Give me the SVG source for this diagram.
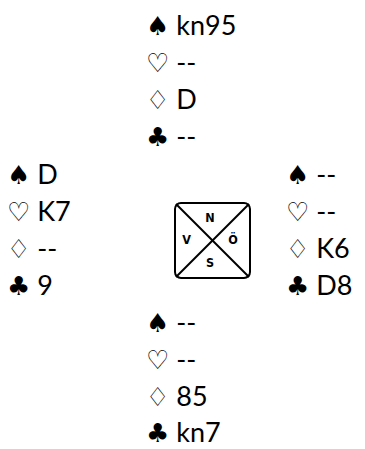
<svg xmlns="http://www.w3.org/2000/svg" width="365" height="449" viewBox="0 0 365 449">
<style>
text{font-family:"Lato","Open Sans","DejaVu Sans",sans-serif;font-size:27px;fill:#000}
.s{font-family:"DejaVu Sans",sans-serif;font-size:26px}
.c{font-family:"DejaVu Sans Condensed","DejaVu Sans",sans-serif;font-weight:bold;font-size:12.5px;text-anchor:middle}
</style>
<rect width="365" height="449" fill="#fff"/>
<g id="north">
<text x="146" y="35"><tspan class="s">♠</tspan> kn95</text>
<text x="146" y="72"><tspan class="s">♡</tspan> --</text>
<text x="146" y="109"><tspan class="s">♢</tspan> D</text>
<text x="146" y="146"><tspan class="s">♣</tspan> --</text>
</g>
<g id="west">
<text x="7" y="184"><tspan class="s">♠</tspan> D</text>
<text x="7" y="221"><tspan class="s">♡</tspan> K7</text>
<text x="7" y="258"><tspan class="s">♢</tspan> --</text>
<text x="7" y="295"><tspan class="s">♣</tspan> 9</text>
</g>
<g id="east">
<text x="286" y="184"><tspan class="s">♠</tspan> --</text>
<text x="286" y="221"><tspan class="s">♡</tspan> --</text>
<text x="286" y="258"><tspan class="s">♢</tspan> K6</text>
<text x="286" y="295"><tspan class="s">♣</tspan> D8</text>
</g>
<g id="south">
<text x="146" y="332"><tspan class="s">♠</tspan> --</text>
<text x="146" y="369"><tspan class="s">♡</tspan> --</text>
<text x="146" y="406"><tspan class="s">♢</tspan> 85</text>
<text x="146" y="442"><tspan class="s">♣</tspan> kn7</text>
</g>
<g id="compass">
<rect x="175" y="203" width="75" height="75" rx="6" fill="none" stroke="#000" stroke-width="2"/>
<line x1="176" y1="204" x2="249" y2="277" stroke="#000" stroke-width="2"/>
<line x1="249" y1="204" x2="176" y2="277" stroke="#000" stroke-width="2"/>
<text class="c" x="210" y="222">N</text>
<text class="c" x="186.5" y="244">V</text>
<text class="c" x="233" y="244">Ö</text>
<text class="c" x="210" y="267">S</text>
</g>
</svg>
